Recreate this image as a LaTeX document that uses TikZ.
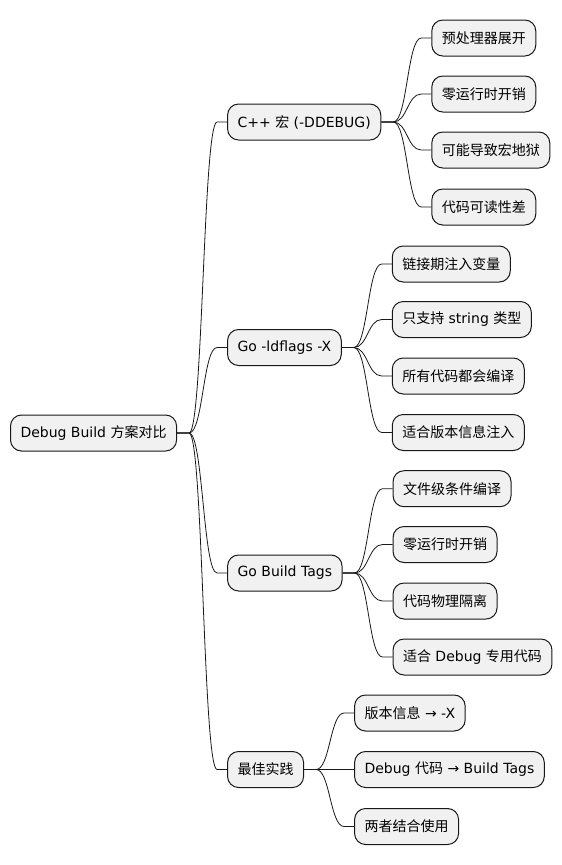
\documentclass[tikz,border=0pt]{standalone}
\usepackage{fontspec}
\setmainfont{DejaVu Sans}
\newfontfamily\cjk{Noto Sans CJK SC}
\usetikzlibrary{calc}
\definecolor{boxfill}{HTML}{F1F1F1}
\definecolor{boxline}{HTML}{181818}
\tikzset{
  mm/.style={draw=boxline, fill=boxfill, line width=1pt, rounded corners=11pt,
    minimum height=36pt, inner xsep=10pt, inner ysep=0pt,
    font=\fontsize{14pt}{16pt}\selectfont, anchor=west},
  link/.style={draw=boxline, line width=0.8pt},
}
\newcommand\mmconn[2]{\draw[link] (#1.east) -- ++(12pt,0) .. controls +(14pt,0) and +(-14pt,0) .. ([xshift=-10pt]#2.west) -- (#2.west);}
\begin{document}
\begin{tikzpicture}[x=1pt,y=1pt]
\useasboundingbox (0,0) rectangle (562,-865);
\node[mm] (root) at (10,-433) {Debug Build {\cjk 方案对比}};
% level 1
\node[mm] (cpp) at ([xshift=50pt,yshift=311pt]root.east) {C++ {\cjk 宏} (-DDEBUG)};
\node[mm] (ld) at ([xshift=50pt,yshift=85.5pt]root.east) {Go -ldflags -X};
\node[mm] (tags) at ([xshift=50pt,yshift=-140pt]root.east) {Go Build Tags};
\node[mm] (best) at ([xshift=50pt,yshift=-336.5pt]root.east) {\cjk 最佳实践};
% C++ children
\node[mm] (c1) at ([xshift=50pt,yshift=84pt]cpp.east) {\cjk 预处理器展开};
\node[mm] (c2) at ([xshift=50pt,yshift=28pt]cpp.east) {\cjk 零运行时开销};
\node[mm] (c3) at ([xshift=50pt,yshift=-28pt]cpp.east) {\cjk 可能导致宏地狱};
\node[mm] (c4) at ([xshift=50pt,yshift=-85pt]cpp.east) {\cjk 代码可读性差};
% ldflags children
\node[mm] (l1) at ([xshift=50pt,yshift=83.5pt]ld.east) {\cjk 链接期注入变量};
\node[mm] (l2) at ([xshift=50pt,yshift=28pt]ld.east) {{\cjk 只支持} string {\cjk 类型}};
\node[mm] (l3) at ([xshift=50pt,yshift=-28.5pt]ld.east) {\cjk 所有代码都会编译};
\node[mm] (l4) at ([xshift=50pt,yshift=-85pt]ld.east) {\cjk 适合版本信息注入};
% tags children
\node[mm] (t1) at ([xshift=50pt,yshift=84.3pt]tags.east) {\cjk 文件级条件编译};
\node[mm] (t2) at ([xshift=50pt,yshift=28.5pt]tags.east) {\cjk 零运行时开销};
\node[mm] (t3) at ([xshift=50pt,yshift=-28pt]tags.east) {\cjk 代码物理隔离};
\node[mm] (t4) at ([xshift=50pt,yshift=-84pt]tags.east) {{\cjk 适合} Debug {\cjk 专用代码}};
% best children
\node[mm] (b1) at ([xshift=50pt,yshift=56.5pt]best.east) {{\cjk 版本信息} → -X};
\node[mm] (b2) at ([xshift=50pt,yshift=0pt]best.east) {Debug {\cjk 代码} → Build Tags};
\node[mm] (b3) at ([xshift=50pt,yshift=-57pt]best.east) {\cjk 两者结合使用};
% connectors
\foreach \c in {cpp,ld,tags,best} {\mmconn{root}{\c}}
\foreach \c in {c1,c2,c3,c4} {\mmconn{cpp}{\c}}
\foreach \c in {l1,l2,l3,l4} {\mmconn{ld}{\c}}
\foreach \c in {t1,t2,t3,t4} {\mmconn{tags}{\c}}
\foreach \c in {b1,b2,b3} {\mmconn{best}{\c}}
\end{tikzpicture}
\end{document}
